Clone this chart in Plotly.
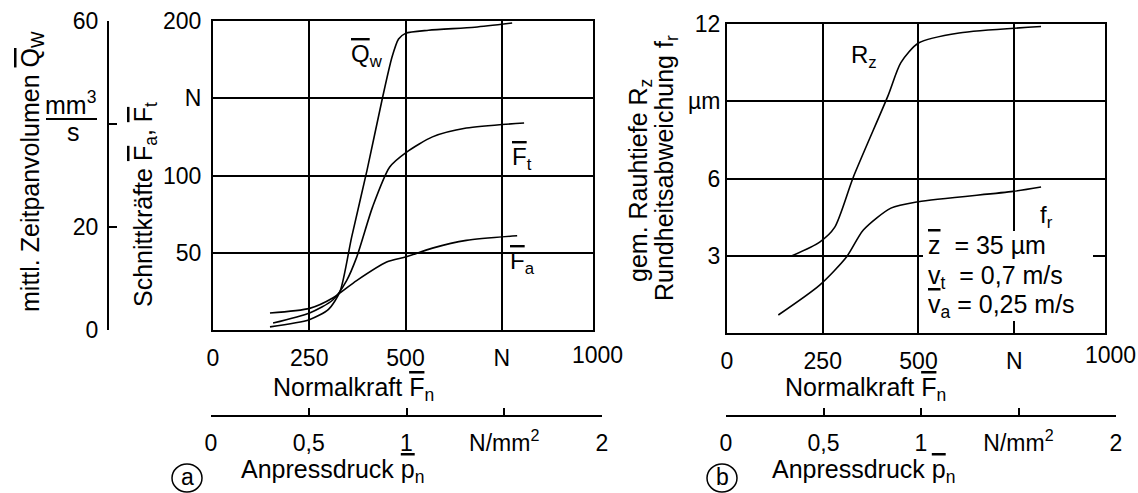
import plotly.graph_objects as go

# ---------------- data ----------------
# panel (a): Normalkraft Fn [N]
fn_qw = [148, 250, 300, 330, 360, 400, 440, 465, 482, 500, 560, 680, 777]
qw = [0.6, 2.0, 4.0, 7.5, 18, 31, 45, 53, 56.5, 57.6, 58.2, 58.8, 59.6]      # mm^3/s

fn_ft = [156, 251, 311, 347, 373, 415, 459, 502, 570, 658, 808]
ft = [4.5, 11, 19.4, 32, 47, 80, 105.5, 115, 125, 130.7, 134]                 # N

fn_fa = [148, 251, 311, 373, 451, 502, 570, 658, 790]
fa = [11, 14, 20.7, 32, 44, 47.4, 53, 58, 61]                                  # N

# panel (b)
fn_rz = [170, 242, 281, 330, 420, 454, 500, 606, 820]
rz = [3.0, 3.53, 4.1, 6.06, 9.2, 10.5, 11.26, 11.65, 11.9]                     # um

fn_fr = [134, 242, 312, 356, 428, 500, 747, 820]
fr = [0.7, 1.86, 2.95, 4.0, 4.85, 5.1, 5.5, 5.67]                             # um

# tick labels
fn_tickvals = [0, 250, 500, 750]
fn_ticktext = ["0", "250", "500", "N"]
f_tickvals = [50, 100, 150, 200]
f_ticktext = ["50", "100", "N", "200"]
q_tickvals = [0, 20, 40, 60]
q_ticktext = ["0", "20", "", "60"]
r_tickvals = [3, 6, 9, 12]
r_ticktext = ["3", "6", "µm", "12"]
p_tickvals = [0, 0.5, 1, 1.5, 2]
p_ticktext = ["0", "0,5", "1", "N/mm<sup>2</sup>", "2"]

# ---------------- layout helpers ----------------
W, H = 1138, 493
FONT = "Liberation Sans, Arial, sans-serif"
FS = 23      # tick labels
FT = 25      # titles


def px(x):
    return x / W


def py(y):
    return 1 - y / H


def ov(s):
    return '<span style="text-decoration:overline">' + s + '</span>'


line_style = dict(color="black", width=1.6, shape="spline", smoothing=0.7)

fig = go.Figure()
fig.add_trace(go.Scatter(x=fn_qw, y=qw, mode="lines", line=line_style, xaxis="x", yaxis="y3", hoverinfo="skip"))
fig.add_trace(go.Scatter(x=fn_ft, y=ft, mode="lines", line=line_style, xaxis="x", yaxis="y", hoverinfo="skip"))
fig.add_trace(go.Scatter(x=fn_fa, y=fa, mode="lines", line=line_style, xaxis="x", yaxis="y", hoverinfo="skip"))
fig.add_trace(go.Scatter(x=fn_rz, y=rz, mode="lines", line=line_style, xaxis="x2", yaxis="y2", hoverinfo="skip"))
fig.add_trace(go.Scatter(x=fn_fr, y=fr, mode="lines", line=line_style, xaxis="x2", yaxis="y2", hoverinfo="skip"))
# empty traces so the pressure scales are created
fig.add_trace(go.Scatter(x=[], y=[], xaxis="x3", yaxis="y5"))
fig.add_trace(go.Scatter(x=[], y=[], xaxis="x4", yaxis="y5"))

main_x = dict(range=[0, 987], tickvals=fn_tickvals, ticktext=fn_ticktext, showgrid=True,
              gridcolor="black", gridwidth=1.6, showline=True, mirror=True, linecolor="black",
              linewidth=2, ticks="", zeroline=False, ticklabelstandoff=6, automargin=False,
              tickfont=dict(size=FS))
press_x = dict(anchor="free", position=py(416), range=[0, 2], tickvals=p_tickvals,
               ticktext=p_ticktext, showgrid=False, showline=True, linecolor="black",
               linewidth=2, ticks="inside", ticklen=7, tickwidth=2, tickcolor="black",
               zeroline=False, ticklabelstandoff=6, automargin=False, tickfont=dict(size=FS))

fig.update_layout(
    template="none",
    width=W, height=H, margin=dict(l=0, r=0, t=0, b=0, pad=0, autoexpand=False),
    paper_bgcolor="white", plot_bgcolor="rgba(0,0,0,0)",
    showlegend=False,
    font=dict(family=FONT, size=FS, color="black"),
    xaxis=dict(domain=[px(213), px(593)], anchor="y", **main_x),
    yaxis=dict(domain=[py(330), py(21)], anchor="x", range=[0, 200], tickvals=f_tickvals,
               ticktext=f_ticktext, showgrid=True, gridcolor="black", gridwidth=1.6,
               showline=True, mirror=True, linecolor="black", linewidth=2, ticks="",
               zeroline=False, ticklabelstandoff=5, automargin=False, tickfont=dict(size=FS)),
    yaxis3=dict(overlaying="y", anchor="free", position=px(108), side="left", range=[0, 60],
                tickvals=q_tickvals, ticktext=q_ticktext, showgrid=False, showline=True,
                linecolor="black", linewidth=2, ticks="inside", ticklen=8, tickwidth=2,
                tickcolor="black", zeroline=False, ticklabelstandoff=4, automargin=False,
                tickfont=dict(size=FS)),
    xaxis2=dict(domain=[px(727), px(1105)], anchor="y2", **main_x),
    yaxis2=dict(domain=[py(333), py(24)], anchor="x2", range=[0, 12], tickvals=r_tickvals,
                ticktext=r_ticktext, showgrid=True, gridcolor="black", gridwidth=1.6,
                showline=True, mirror=True, linecolor="black", linewidth=2, ticks="",
                zeroline=False, ticklabelstandoff=0, automargin=False, tickfont=dict(size=FS)),
    xaxis3=dict(domain=[px(211), px(602)], **press_x),
    xaxis4=dict(domain=[px(726), px(1116)], **press_x),
    yaxis5=dict(domain=[0, 0.05], anchor="x3", visible=False, range=[0, 1], automargin=False),
)

shapes = []
# white field behind the parameter text in panel (b)
shapes.append(dict(type="rect", xref="paper", yref="paper", x0=px(923), x1=px(1093),
                   y0=py(321), y1=py(231), fillcolor="white", line=dict(width=0), layer="above"))
# fraction bar of mm^3/s
shapes.append(dict(type="line", xref="paper", yref="paper", x0=px(46), x1=px(97),
                   y0=py(119), y1=py(119), line=dict(color="black", width=2)))
# circled panel letters
for cx in (187, 722):
    shapes.append(dict(type="circle", xref="paper", yref="paper", x0=px(cx - 15), x1=px(cx + 15),
                       y0=py(478 + 14), y1=py(478 - 14), line=dict(color="black", width=1.5)))
fig.update_layout(shapes=shapes)

ann = []


def add(text, x, y, angle=0, xanchor="center", size=FT):
    ann.append(dict(text=text, x=px(x), y=py(y), xref="paper", yref="paper",
                    showarrow=False, textangle=angle, xanchor=xanchor, yanchor="middle",
                    font=dict(size=size, family=FONT, color="black")))


add("mittl. Zeitpanvolumen " + ov("Q") + "<sub>W</sub>", 32, 172, angle=-90)
add("mm<sup>3</sup>", 70, 103, size=FT)
add("s", 73, 132, size=FT)
add("Schnittkräfte " + ov("F") + "<sub>a</sub>, " + ov("F") + "<sub>t</sub>", 145, 205, angle=-90)
add("gem. Rauhtiefe R<sub>z</sub>", 640, 181, angle=-90)
add("Rundheitsabweichung f<sub>r</sub>", 666, 168, angle=-90)

add(ov("Q") + "<sub>w</sub>", 367, 55, size=24)
add(ov("F") + "<sub>t</sub>", 522, 158, size=24)
add(ov("F") + "<sub>a</sub>", 522, 262, size=24)
add("R<sub>z</sub>", 864, 57, size=24)
add("f<sub>r</sub>", 1046, 217, size=24)

add(ov("z") + "  = 35 µm", 926, 245, xanchor="left")
add("v<sub>t</sub>  = 0,7 m/s", 926, 277, xanchor="left")
add(ov("v") + "<sub>a</sub> = 0,25 m/s", 926, 306, xanchor="left")

add("1000", 597, 355, size=FS)
add("1000", 1110, 355, size=FS)
add("Normalkraft " + ov("F") + "<sub>n</sub>", 353, 389)
add("Normalkraft " + ov("F") + "<sub>n</sub>", 865, 389)
add("Anpressdruck " + ov("p") + "<sub>n</sub>", 332, 471)
add("Anpressdruck " + ov("p") + "<sub>n</sub>", 863, 471)
add("a", 187, 477, size=FS)
add("b", 722, 477, size=FS)

fig.update_layout(annotations=ann)
fig.write_html("out.html")
